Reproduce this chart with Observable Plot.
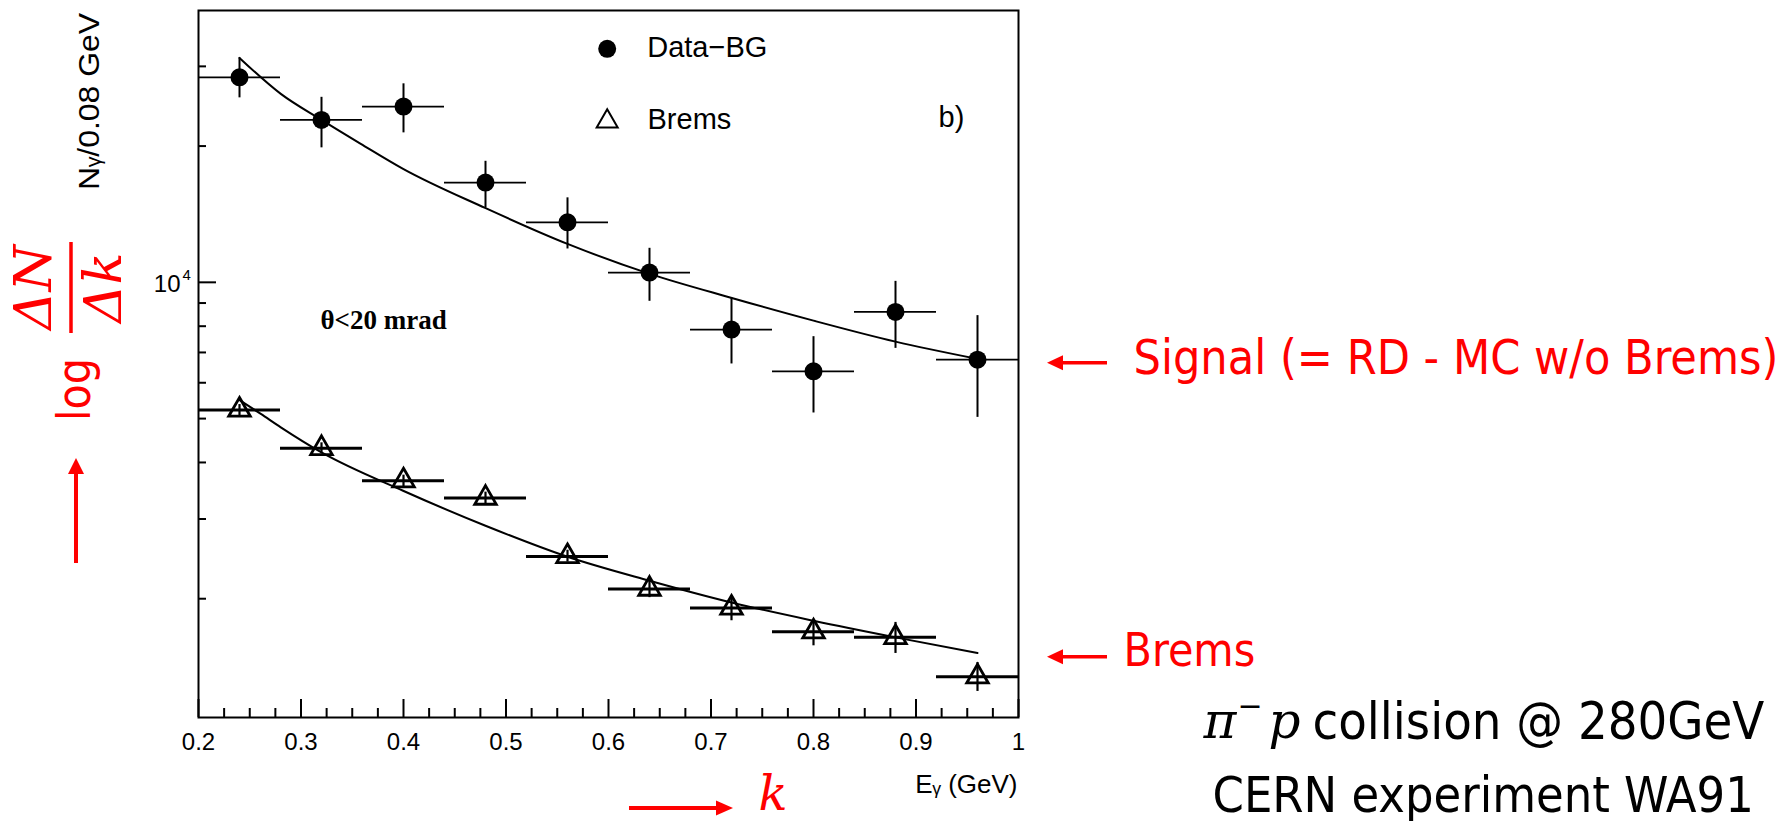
<!DOCTYPE html>
<html>
<head>
<meta charset="utf-8">
<script src="https://cdn.jsdelivr.net/npm/d3@7"></script>
<script src="https://cdn.jsdelivr.net/npm/@observablehq/plot@0.6"></script>
<style>
  html, body { margin: 0; padding: 0; background: #fff; }
  #chart svg { display: block; }
</style>
</head>
<body>
<div id="chart"></div>
<script>
// ---------------- data ----------------
const energies   = [0.24, 0.32, 0.40, 0.48, 0.56, 0.64, 0.72, 0.80, 0.88, 0.96];
const signal     = [28380, 22850, 24450, 16610, 13570, 10510, 7862, 6358, 8602, 6749];
const signalLo   = [25560, 19820, 21390, 14600, 11850, 9080, 6602, 5145, 7147, 5031];
const signalHi   = [31320, 25630, 27450, 18510, 15370, 11890, 9236, 7585, 10050, 8442];
const brems      = [5224, 4298, 3646, 3338, 2480, 2101, 1908, 1691, 1643, 1345];
const bremsLo    = [5080, 4180, 3540, 3240, 2410, 2011, 1788, 1574, 1514, 1248];
const bremsHi    = [5370, 4420, 3750, 3440, 2560, 2203, 2011, 1788, 1773, 1446];
const binHalfWidth = 0.04;

const signalFitX = [0.24, 0.2803, 0.32, 0.3583, 0.3996, 0.4796, 0.56, 0.6403, 0.7203, 0.80, 0.88, 0.9603];
const signalFitY = [31320, 26080, 22850, 20230, 17810, 14600, 12160, 10440, 9236, 8230, 7396, 6771];
const bremsFitX  = [0.24, 0.2608, 0.2803, 0.32, 0.3996, 0.48, 0.56, 0.64, 0.72, 0.80, 0.88, 0.96];
const bremsFitY  = [5497, 5121, 4783, 4210, 3464, 2899, 2476, 2192, 1962, 1788, 1643, 1517];

const xTicks      = [0.2, 0.3, 0.4, 0.5, 0.6, 0.7, 0.8, 0.9, 1.0];
const xMinorTicks = [0.225, 0.25, 0.275, 0.325, 0.35, 0.375, 0.425, 0.45, 0.475,
                     0.525, 0.55, 0.575, 0.625, 0.65, 0.675, 0.725, 0.75, 0.775,
                     0.825, 0.85, 0.875, 0.925, 0.95, 0.975];
const yMajorTicks = [10000];
const yMinorTicks = [2000, 3000, 4000, 5000, 6000, 7000, 8000, 9000, 20000, 30000];
const yDomain     = [1093, 39860];
const yTitle      = "N\u1d67/0.08 GeV";
const xTitle      = "E\u1d67 (GeV)";

// ---------------- tables built from the arrays ----------------
const signalRows = energies.map((e, i) => ({e, v: signal[i], lo: signalLo[i], hi: signalHi[i]}));
const bremsRows  = energies.map((e, i) => ({e, v: brems[i],  lo: bremsLo[i],  hi: bremsHi[i]}));
const signalFit  = signalFitX.map((x, i) => ({x, y: signalFitY[i]}));
const bremsFit   = bremsFitX.map((x, i) => ({x, y: bremsFitY[i]}));

// ---------------- layout ----------------
const W = 1791, H = 821;
const margin = {top: 10, right: 773, bottom: 104, left: 198};
const innerW = W - margin.left - margin.right;
const innerH = H - margin.top - margin.bottom;
const RED = "#ff0000";
const SANS  = "'Liberation Sans', Arial, sans-serif";
const SLIDE = "'DejaVu Sans Condensed', 'DejaVu Sans', sans-serif";
const MATH  = "'DejaVu Serif', serif";
const SERIF = "'Liberation Serif', 'Times New Roman', serif";

const at = (X, Y) => ({frameAnchor: "top-left", dx: X - margin.left, dy: Y - margin.top});
const label = (txt, X, Y, opts) =>
  Plot.text([txt], {text: d => d, ...at(X, Y), lineAnchor: "bottom", textAnchor: "start", ...opts});

// red arrows, fraction bar and the rotated y title
function decorations(index, scales, values, dim) {
  const g = d3.create("svg:g");
  const arrow = (x1, y1, x2, y2, w, head, half) => {
    const dx = x2 - x1, dy = y2 - y1, L = Math.hypot(dx, dy);
    const ux = dx / L, uy = dy / L;
    const bx = x2 - ux * head, by = y2 - uy * head;
    g.append("line").attr("x1", x1).attr("y1", y1).attr("x2", bx + ux).attr("y2", by + uy)
      .attr("stroke", RED).attr("stroke-width", w);
    g.append("path")
      .attr("d", `M${x2},${y2}L${bx - uy * half},${by + ux * half}L${bx + uy * half},${by - ux * half}Z`)
      .attr("fill", RED);
  };
  arrow(1107, 362.7, 1047, 362.7, 3.5, 16, 7.5);
  arrow(1107, 656.7, 1047, 656.7, 3.5, 16, 7.5);
  arrow(76, 563, 76, 458, 4, 16, 8);
  arrow(629, 808, 733, 808, 4, 17, 7.5);
  g.append("line").attr("x1", 71).attr("x2", 71).attr("y1", 242).attr("y2", 333)
    .attr("stroke", RED).attr("stroke-width", 3.5);
  // y-axis title of the original figure (rotated, reads bottom to top)
  g.append("text")
    .attr("transform", "translate(98.7,101.5) rotate(-90)")
    .attr("text-anchor", "middle")
    .attr("font-family", SANS)
    .attr("font-size", 30)
    .attr("fill", "black")
    .attr("textLength", 177)
    .attr("lengthAdjust", "spacingAndGlyphs")
    .text(yTitle);
  return g.node();
}

const chart = Plot.plot({
  width: W,
  height: H,
  marginTop: margin.top,
  marginRight: margin.right,
  marginBottom: margin.bottom,
  marginLeft: margin.left,
  style: {fontFamily: SANS, fontSize: "24px", background: "white", color: "black", overflow: "visible"},
  x: {type: "linear", domain: [0.2, 1.0]},
  y: {type: "log", domain: yDomain, axis: null},
  marks: [
    Plot.frame({stroke: "black", strokeWidth: 2}),
    // inward ticks
    Plot.ruleX(xTicks, {x: d => d, insetTop: innerH - 18, stroke: "black", strokeWidth: 2}),
    Plot.ruleX(xMinorTicks, {x: d => d, insetTop: innerH - 9, stroke: "black", strokeWidth: 2}),
    Plot.ruleY(yMajorTicks, {y: d => d, insetRight: innerW - 18, stroke: "black", strokeWidth: 2}),
    Plot.ruleY(yMinorTicks, {y: d => d, insetRight: innerW - 8, stroke: "black", strokeWidth: 2}),
    Plot.axisX({ticks: xTicks, tickSize: 0, tickPadding: 15, fontSize: 24, label: null,
                tickFormat: d => (d === 1 ? "1" : d.toFixed(1))}),
    // 10^4 label
    Plot.text(yMajorTicks, {x: () => 0.2, y: d => d, text: () => "10", textAnchor: "end",
                            lineAnchor: "bottom", dx: -18, dy: 10, fontSize: 24}),
    Plot.text(yMajorTicks, {x: () => 0.2, y: d => d, text: () => "4", textAnchor: "start",
                            lineAnchor: "bottom", dx: -16, dy: -2, fontSize: 15}),

    // fit curves
    Plot.line(signalFit, {x: "x", y: "y", curve: "monotone-x", stroke: "black", strokeWidth: 2}),
    Plot.line(bremsFit,  {x: "x", y: "y", curve: "monotone-x", stroke: "black", strokeWidth: 2}),

    // Data - BG
    Plot.ruleY(signalRows, {y: "v", x1: d => d.e - binHalfWidth, x2: d => d.e + binHalfWidth,
                            stroke: "black", strokeWidth: 1.8}),
    Plot.ruleX(signalRows, {x: "e", y1: "lo", y2: "hi", stroke: "black", strokeWidth: 2}),
    Plot.dot(signalRows, {x: "e", y: "v", r: 9, fill: "black"}),

    // Brems
    Plot.ruleY(bremsRows, {y: "v", x1: d => d.e - binHalfWidth, x2: d => d.e + binHalfWidth,
                           stroke: "black", strokeWidth: 3}),
    Plot.ruleX(bremsRows, {x: "e", y1: "lo", y2: "hi", stroke: "black", strokeWidth: 2.2}),
    Plot.dot(bremsRows, {x: "e", y: "v", symbol: "triangle", r: 8, fill: "none",
                         stroke: "black", strokeWidth: 2.8}),

    // legend inside frame
    Plot.dot([0], {...at(606.7, 48.3), r: 9, fill: "black"}),
    Plot.dot([0], {...at(606.7, 121), symbol: "triangle", r: 7.8, fill: "none", stroke: "black", strokeWidth: 2}),
    label("Data\u2212BG", 646.7, 56.7, {fontSize: 29, fontFamily: SANS}),
    label("Brems", 647, 128.3, {fontSize: 29, fontFamily: SANS}),
    label("b)", 938, 126.7, {fontSize: 29, fontFamily: SANS}),
    label("\u03b8<20 mrad", 320, 328.3, {fontSize: 27, fontFamily: SERIF, fontWeight: "bold"}),

    // x title
    label(xTitle, 1017, 792, {textAnchor: "end", fontSize: 26, fontFamily: SANS}),

    // red axis annotations
    label("log", 89, 389, {rotate: -90, textAnchor: "middle", fontSize: 46, fontFamily: SLIDE, fill: RED}),
    label("\u0394N", 50, 287, {rotate: -90, textAnchor: "middle", fontSize: 53, fontFamily: MATH, fontStyle: "italic", fill: RED}),
    label("\u0394k", 120, 287, {rotate: -90, textAnchor: "middle", fontSize: 53, fontFamily: MATH, fontStyle: "italic", fill: RED}),
    label("k", 758, 809, {fontSize: 48, fontFamily: MATH, fontStyle: "italic", fill: RED}),
    label("Signal (= RD - MC w/o Brems)", 1133, 373.3, {fontSize: 48, fontFamily: SLIDE, fill: RED}),
    label("Brems", 1123, 665.7, {fontSize: 46, fontFamily: SLIDE, fill: RED}),

    // experiment caption
    label("\u03c0", 1203, 737, {fontSize: 50, fontFamily: MATH, fontStyle: "italic"}),
    label("\u2212", 1237, 715, {fontSize: 30, fontFamily: MATH}),
    label("p", 1268, 737, {fontSize: 50, fontFamily: MATH, fontStyle: "italic"}),
    label("collision @ 280GeV", 1312, 738, {fontSize: 52, fontFamily: SLIDE}),
    label("CERN experiment WA91", 1212, 811.7, {fontSize: 50, fontFamily: SLIDE}),

    decorations
  ]
});

document.getElementById("chart").appendChild(chart);
</script>
</body>
</html>
